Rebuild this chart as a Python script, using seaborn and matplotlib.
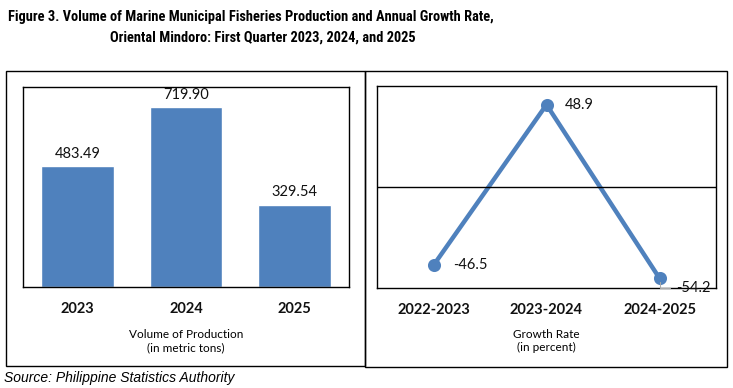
import numpy as np
import pandas as pd
import seaborn as sns
import matplotlib.pyplot as plt
from matplotlib.patches import Rectangle
from matplotlib import font_manager

sns.set_theme(style='white')
plt.rcParams['font.family'] = ['Lato', 'DejaVu Sans']
plt.rcParams['text.color'] = 'black'

years = ['2023', '2024', '2025']
volume = [483.49, 719.90, 329.54]
periods = ['2022-2023', '2023-2024', '2024-2025']
growth = [-46.5, 48.9, -54.2]

blue = '#4F81BD'
W, H = 733, 388

fig = plt.figure(figsize=(W / 100, H / 100), dpi=100)

def frac(x0, y0, x1, y1):
    # pixel box (top-left, bottom-right) -> figure fraction
    return [x0 / W, 1 - y1 / H, (x1 - x0) / W, (y1 - y0) / H]

# outer panel frames
for box in [frac(6, 71, 365, 366), frac(365, 71, 727, 367)]:
    fig.patches.append(Rectangle((box[0], box[1]), box[2], box[3], transform=fig.transFigure,
                                 fill=False, edgecolor='black', linewidth=1.0))

ax1 = fig.add_axes(frac(23, 87, 349, 287))
ax2 = fig.add_axes(frac(377, 86, 716, 288))

# left: volume of production
df_vol = pd.DataFrame({'Year': years, 'Volume': volume})
sns.barplot(data=df_vol, x='Year', y='Volume', color=blue, saturation=1, width=0.67, ax=ax1)
ax1.set_ylim(0, 800)
for i, v in enumerate(volume):
    ax1.text(i, v + 22, f'{v:.2f}', ha='center', va='bottom', fontsize=10.5, color='#111111')

# right: growth rate
df_gr = pd.DataFrame({'Period': periods, 'Growth': growth})
sns.pointplot(data=df_gr, x='Period', y='Growth', color=blue, markersize=7, linewidth=3.2, ax=ax2)
ax2.set_xlim(-0.5, 2.5)
ax2.set_ylim(-60, 60)
ax2.axhline(0, color='black', linewidth=1.0)
ax2.annotate(f'{growth[0]}', (0, growth[0]), xytext=(14, 0), textcoords='offset points',
             ha='left', va='center', fontsize=10.5, color='#111111')
ax2.annotate(f'{growth[1]}', (1, growth[1]), xytext=(13, 0), textcoords='offset points',
             ha='left', va='center', fontsize=10.5, color='#111111')
ax2.annotate(f'{growth[2]}', (2, growth[2]), xytext=(12, -7), textcoords='offset points',
             ha='left', va='center', fontsize=10.5, color='#111111',
             arrowprops=dict(arrowstyle='-', color='#aaaaaa', lw=0.8,
                             connectionstyle='angle,angleA=0,angleB=90,rad=0',
                             shrinkA=2, shrinkB=3))

for ax in (ax1, ax2):
    ax.set_xlabel('')
    ax.set_ylabel('')
    ax.set_yticks([])
    ax.tick_params(axis='x', length=0, pad=11, labelsize=10.5, labelcolor='#111111')
    for lab in ax.get_xticklabels():
        lab.set_fontweight('bold')
    for s in ax.spines.values():
        s.set_visible(True)
        s.set_color('black')
        s.set_linewidth(1.0)

fig.text(186 / W, 1 - 341 / H, 'Volume of Production\n(in metric tons)', ha='center', va='center',
         fontsize=8.5, linespacing=1.3)
fig.text(546 / W, 1 - 341 / H, 'Growth Rate\n(in percent)', ha='center', va='center',
         fontsize=8.5, linespacing=1.3)

# narrow bold font for the title if one is installed
names = {f.name for f in font_manager.fontManager.ttflist}
if 'Roboto Condensed' in names:
    title_font, title_size = ['Roboto Condensed'], 10.4
elif 'Liberation Sans Narrow' in names:
    title_font, title_size = ['Liberation Sans Narrow'], 10.4
else:
    title_font, title_size = ['Liberation Sans', 'DejaVu Sans'], 9.5

fig.text(8 / W, 1 - 17 / H,
         'Figure 3. Volume of Marine Municipal Fisheries Production and Annual Growth Rate,',
         ha='left', va='center', fontsize=title_size, fontweight='bold', family=title_font)
fig.text(263 / W, 1 - 38 / H, 'Oriental Mindoro: First Quarter 2023, 2024, and 2025',
         ha='center', va='center', fontsize=title_size, fontweight='bold', family=title_font)
fig.text(4 / W, 1 - 378 / H, 'Source: Philippine Statistics Authority', ha='left', va='center',
         fontsize=10, style='italic', family=['Liberation Sans', 'DejaVu Sans'])

fig.savefig('out.png', dpi=100)
